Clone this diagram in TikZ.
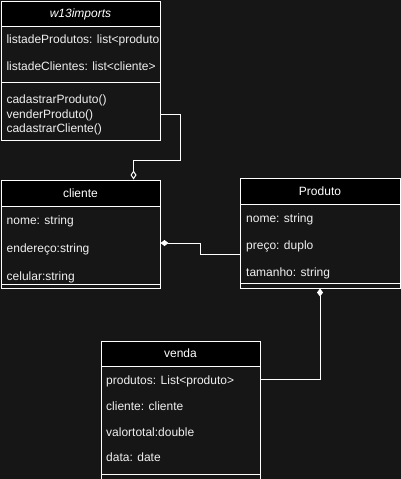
\documentclass[tikz,border=0pt]{standalone}
\usepackage{fontspec}
\setmainfont{Liberation Sans}
\usetikzlibrary{arrows.meta}
\definecolor{bgdark}{HTML}{161616}
\definecolor{txtlight}{HTML}{F0F0F0}
\tikzset{
  classpart/.style={draw=white, fill=bgdark, line width=1pt, anchor=north west,
    inner sep=0pt, outer sep=0pt},
  classhead/.style={classpart, fill=black, text=white, text height=8.6pt, text depth=0pt},
  member/.style={anchor=base west, inner sep=0pt, text=txtlight},
  assoc/.style={draw=white, line width=1pt},
  owner/.style={-{Diamond[length=8pt, width=6pt]}},
  shared/.style={-{Diamond[open, length=9pt, width=6pt]}}
}
\begin{document}
\begin{tikzpicture}[x=1pt, y=-1pt, font=\fontsize{12pt}{14pt}\selectfont]
    \useasboundingbox (0,0) rectangle (401,479);
    \fill[bgdark] (0,0) rectangle (401,479);

    % Draw the class w13imports
    \node[classhead, minimum width=159pt, minimum height=25pt] (w13head) at (1,1) {\itshape w13imports};
    \node[classpart, minimum width=159pt, minimum height=56pt] (w13attr) at (1,26) {};
    \node[classpart, minimum width=159pt, minimum height=58pt] (w13ops) at (1,82) {};
    \node[member] (w13prod) at (6.3,43) {listadeProdutos: list<produto};
    \node[member] (w13cli) at (6.3,70) {listadeClientes: list<cliente>};
    \node[member] (w13m1) at (6.3,103.5) {cadastrarProduto()};
    \node[member] (w13m2) at (6.3,118) {venderProduto()};
    \node[member] (w13m3) at (6.3,132) {cadastrarCliente()};

    % Draw the class cliente
    \node[classhead, minimum width=159pt, minimum height=26pt] (clihead) at (1,180) {cliente};
    \node[classpart, minimum width=159pt, minimum height=78pt] (cliattr) at (1,206) {};
    \node[classpart, minimum width=159pt, minimum height=4pt] (cliops) at (1,284) {};
    \node[member] (clinome) at (6.5,224.5) {nome: string};
    \node[member] (cliend) at (6.5,252.5) {endereço:string};
    \node[member] (clicel) at (6.5,280) {celular:string};

    % Draw the class Produto
    \node[classhead, minimum width=160pt, minimum height=26pt] (prohead) at (240,178) {Produto};
    \node[classpart, minimum width=160pt, minimum height=79pt] (proattr) at (240,204) {};
    \node[classpart, minimum width=160pt, minimum height=5pt] (proops) at (240,283) {};
    \node[member] (pronome) at (246,222) {nome: string};
    \node[member] (propreco) at (246,249) {preço: duplo};
    \node[member] (protam) at (246,276.5) {tamanho: string};

    % Draw the class venda
    \node[classhead, minimum width=159pt, minimum height=25pt] (venhead) at (101,341) {venda};
    \node[classpart, minimum width=159pt, minimum height=108pt] (venattr) at (101,366) {};
    \node[classpart, minimum width=159pt, minimum height=8pt] (venops) at (101,474) {};
    \node[member] (venprod) at (106,384.5) {produtos: List<produto>};
    \node[member] (vencli) at (106,410) {cliente: cliente};
    \node[member] (venval) at (106,436.5) {valortotal:double};
    \node[member] (vendata) at (106,461.5) {data: date};

    % Ends of the connectors on the class borders
    \coordinate (w13out) at (160,114);
    \coordinate (cliin) at (133.5,179.5);
    \coordinate (cliside) at (160.5,243);
    \coordinate (proside) at (240,254);
    \coordinate (probottom) at (320,288.5);
    \coordinate (venside) at (260,379);

    % Draw the associations
    \draw[assoc, shared] (w13out) -| (180,160) -| (cliin);
    \draw[assoc, owner] (proside) -- (200,254) -- (200,243) -- (cliside);
    \draw[assoc, owner] (venside) -| (probottom);
\end{tikzpicture}
\end{document}
